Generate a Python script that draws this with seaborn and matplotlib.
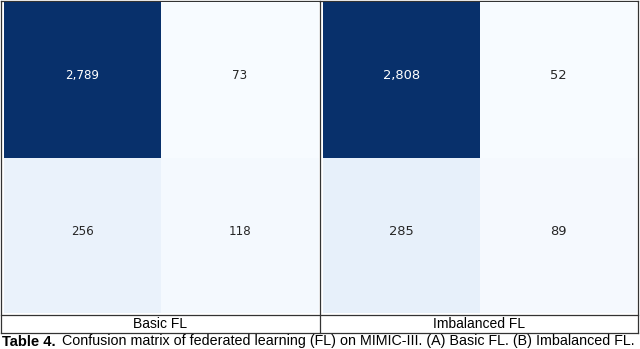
import numpy as np
import matplotlib
matplotlib.use("Agg")
import matplotlib.pyplot as plt
import seaborn as sns

# Data
basic_fl = [[2789, 73], [256, 118]]
imbalanced_fl = [[2808, 52], [285, 89]]
panel_labels = ["Basic FL", "Imbalanced FL"]
caption_bold = "Table 4."
caption_rest = "Confusion matrix of federated learning (FL) on MIMIC-III. (A) Basic FL. (B) Imbalanced FL."

W, H = 640, 349
fig = plt.figure(figsize=(W / 100, H / 100), dpi=100)

def px_axes(x0, y0, x1, y1):
    return fig.add_axes([x0 / W, 1 - y1 / H, (x1 - x0) / W, (y1 - y0) / H])

ax1 = px_axes(4, 2, 318.5, 313)
ax2 = px_axes(323, 2, 637, 313)

for ax, data, fs in [(ax1, basic_fl, 8.6), (ax2, imbalanced_fl, 9.4)]:
    sns.heatmap(np.array(data), ax=ax, cmap="Blues", annot=True, fmt=",",
                cbar=False, linewidths=0, annot_kws={"fontsize": fs,
                                                     "family": "DejaVu Sans"})
    ax.set_xticks([])
    ax.set_yticks([])
    for t in ax.texts:
        x, y = t.get_position()
        t.set_position((x, y - 0.025))

# overlay for table lines and labels
ov = fig.add_axes([0, 0, 1, 1], zorder=-1)
ov.set_xlim(0, W)
ov.set_ylim(H, 0)
ov.axis("off")
lc = "#333333"
lw = 0.9
ov.plot([1, 637.5], [0.5, 0.5], color=lc, lw=lw)
ov.plot([1, 637.5], [315, 315], color=lc, lw=lw)
ov.plot([1, 637.5], [333, 333], color=lc, lw=lw)
ov.plot([1, 1], [0.5, 333], color=lc, lw=lw)
ov.plot([320, 320], [0.5, 333], color=lc, lw=lw)
ov.plot([637.5, 637.5], [0.5, 333], color=lc, lw=lw)

font = "Liberation Sans"
ov.text(160, 324.5, panel_labels[0], ha="center", va="center",
        fontsize=10, family=font)
ov.text(479, 324.5, panel_labels[1], ha="center", va="center",
        fontsize=10, family=font)

t1 = ov.text(2, 341.5, caption_bold, ha="left", va="center", fontsize=10.6,
             family=font, fontweight="bold")
fig.canvas.draw()
bb = t1.get_window_extent(renderer=fig.canvas.get_renderer())
x_end = bb.x1 + 6
ov.text(x_end, 341.5, caption_rest, ha="left", va="center", fontsize=10.25,
        family=font)

fig.savefig("out.png", dpi=100)
